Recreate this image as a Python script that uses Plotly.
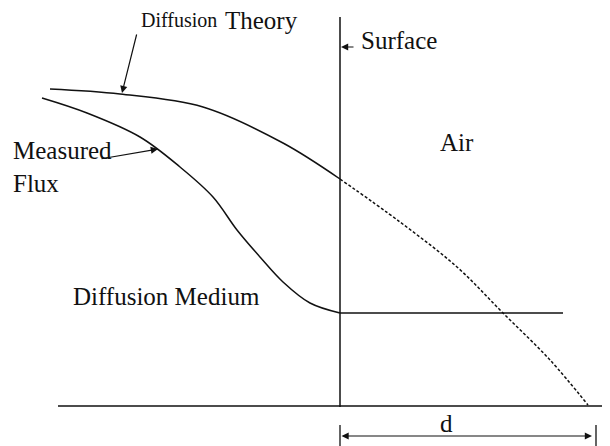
import plotly.graph_objects as go

# Coordinates: depth x (0 = surface), flux y (0 = baseline)
theory_x = [-290, -220, -137, -57, 0]
theory_y = [317, 312, 299, 263, 227]

theory_air_x = [0, 60, 117, 163, 210, 248]
theory_air_y = [227, 184, 139, 93, 46, 1]

measured_x = [-298, -253, -200, -160, -127, -103, -80, -57, -30, 0]
measured_y = [308, 293, 269, 239, 209, 176, 149, 124, 103, 93]

measured_air_x = [0, 223]
measured_air_y = [93, 93]

baseline_x = [-282, 270]
baseline_y = [0, 0]

surface_x = [0, 0]
surface_y = [-1, 389]

d_value = 252

FONT = "Liberation Serif, Times New Roman, serif"
BLACK = "#111111"

fig = go.Figure()

def line(x, y, dash="solid", width=1.5, shape="spline"):
    fig.add_trace(go.Scatter(x=x, y=y, mode="lines",
                             line=dict(color=BLACK, width=width, dash=dash, shape=shape,
                                       smoothing=1.0 if shape == "spline" else None),
                             hoverinfo="skip", showlegend=False))

line(baseline_x, baseline_y, width=1.5, shape="linear")
line(surface_x, surface_y, width=1.5, shape="linear")
line(theory_x, theory_y)
line(theory_air_x, theory_air_y, dash="3px,2px")
line(measured_x, measured_y)
line(measured_air_x, measured_air_y, width=1.3, shape="linear")
# d ticks
line([0, 0], [-19, -40], width=1.3, shape="linear")
line([d_value + 4, d_value + 4], [-19, -40], width=1.3, shape="linear")

def arrow(tail, head, side="end"):
    fig.add_annotation(x=head[0], y=head[1], ax=tail[0], ay=tail[1], xref="x", yref="y", axref="x", ayref="y",
                       text="", showarrow=True, arrowhead=2, arrowsize=1.2, arrowwidth=1.2,
                       arrowcolor=BLACK, arrowside=side)

arrow((-203, 373), (-218, 313))
arrow((-240, 247), (-182, 257))
arrow((15, 359), (1, 359))
arrow((0, -30), (d_value, -30), side="end+start")

def label(x, y, text, size=25, anchor="left"):
    fig.add_annotation(x=x, y=y, xref="x", yref="y", text=text, showarrow=False, xanchor=anchor, yanchor="middle",
                       font=dict(family=FONT, size=size, color=BLACK))

label(-201, 386, "Diffusion", size=20)
label(-117, 386, "Theory")
label(-329, 256, "Measured")
label(-329, 223, "Flux")
label(19, 366, "Surface")
label(98, 264, "Air")
label(-269, 110, "Diffusion Medium")
label(106, -17, "d", anchor="center")

# page body has an 8px default margin, so the figure is 602x438 starting at (8, 8)
fig.update_layout(
    width=602, height=438,
    margin=dict(l=0, r=0, t=0, b=0),
    paper_bgcolor="white", plot_bgcolor="white",
    xaxis=dict(range=[-332, 270], visible=False, fixedrange=True),
    yaxis=dict(range=[-40, 398], visible=False, fixedrange=True),
)

fig.write_html("out.html")
